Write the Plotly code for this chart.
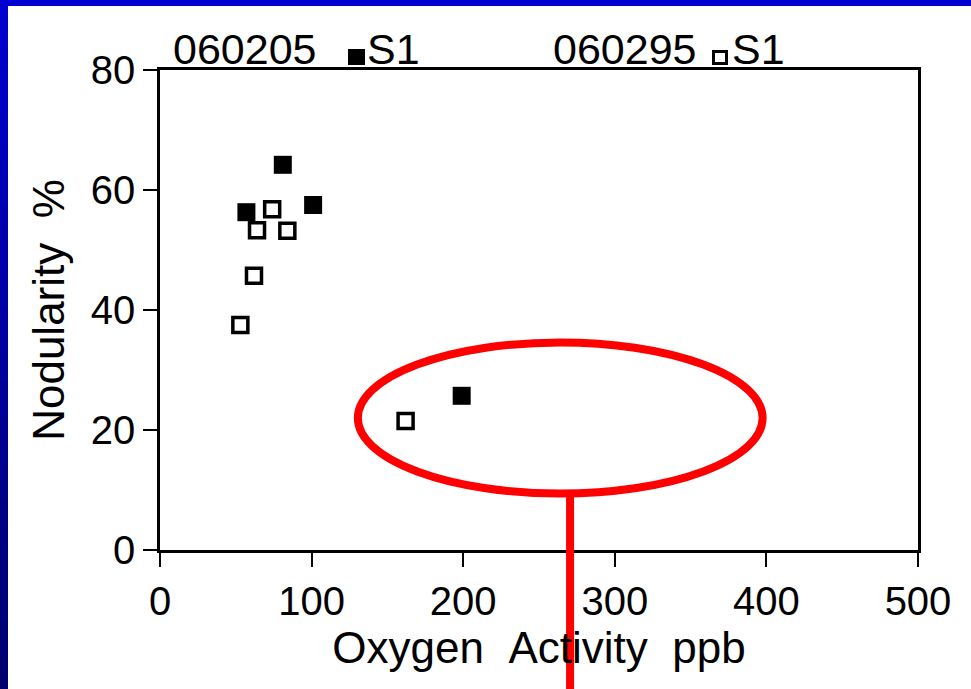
import plotly.graph_objects as go

# Data
s1_060205_x = [57, 81, 101, 199]
s1_060205_y = [56.3, 64.2, 57.5, 25.7]
s1_060295_x = [74, 64, 84, 62, 53, 162]
s1_060295_y = [56.8, 53.3, 53.2, 45.7, 37.5, 21.5]
x_ticks = [0, 100, 200, 300, 400, 500]
y_ticks = [0, 20, 40, 60, 80]
series_ids = ["060205", "060295"]
series_tag = "S1"

W, H = 971, 689
L, R, T, B = 160, 53, 70, 139
pw, ph = W - L - R, H - T - B

def px_to_paper_x(px):
    return (px - L) / pw

def py_to_paper_y(py):
    return (H - B - py) / ph

fig = go.Figure()
fig.add_trace(go.Scatter(x=s1_060205_x, y=s1_060205_y, mode="markers",
                         marker=dict(symbol="square", size=18, color="black"),
                         showlegend=False))
fig.add_trace(go.Scatter(x=s1_060295_x, y=s1_060295_y, mode="markers",
                         marker=dict(symbol="square-open", size=15, color="black",
                                     line=dict(width=3.5, color="black")),
                         showlegend=False))

shapes = []
# blue gradient frame (left band + top band)
n = 40
for i in range(n):
    y0 = i * H / n
    y1 = (i + 1) * H / n + 2
    t = i / (n - 1)
    b = int(208 - t * 98)
    shapes.append(dict(type="rect", xref="paper", yref="paper", layer="below",
                       x0=px_to_paper_x(-2), x1=px_to_paper_x(8),
                       y0=py_to_paper_y(y1), y1=py_to_paper_y(y0),
                       line=dict(width=0), fillcolor=f"rgb(0,0,{b})"))
shapes.append(dict(type="rect", xref="paper", yref="paper", layer="below",
                   x0=px_to_paper_x(-2), x1=px_to_paper_x(W + 2),
                   y0=py_to_paper_y(6), y1=py_to_paper_y(-2),
                   line=dict(width=0), fillcolor="rgb(0,0,208)"))
# legend squares
shapes.append(dict(type="rect", xref="paper", yref="paper",
                   x0=px_to_paper_x(348), x1=px_to_paper_x(365),
                   y0=py_to_paper_y(65), y1=py_to_paper_y(49),
                   line=dict(width=0), fillcolor="black"))
shapes.append(dict(type="rect", xref="paper", yref="paper",
                   x0=px_to_paper_x(713.5), x1=px_to_paper_x(726.5),
                   y0=py_to_paper_y(63.5), y1=py_to_paper_y(51.5),
                   line=dict(width=3, color="black"), fillcolor="white"))
# red ellipse and pointer line
shapes.append(dict(type="circle", xref="x", yref="y",
                   x0=130.5, x1=397.5, y0=9.4, y1=34.6,
                   line=dict(color="#ff0000", width=8)))
shapes.append(dict(type="line", xref="x", yref="paper",
                   x0=270.5, x1=270.5, y0=py_to_paper_y(496), y1=py_to_paper_y(700),
                   line=dict(color="#ff0000", width=8)))

font_main = "Liberation Sans, Arial, Helvetica, sans-serif"
ann_font = dict(family=font_main, size=43, color="black")
annotations = []
for label, px in [(series_ids[0], 171), (series_tag, 365), (series_ids[1], 551), (series_tag, 730)]:
    annotations.append(dict(text=label, x=px_to_paper_x(px), y=py_to_paper_y(49),
                            xref="paper", yref="paper", xanchor="left", yanchor="middle",
                            showarrow=False, font=ann_font))

fig.update_layout(
    width=W, height=H,
    margin=dict(l=L, r=R, t=T, b=B, pad=0),
    paper_bgcolor="white", plot_bgcolor="white",
    shapes=shapes, annotations=annotations,
    xaxis=dict(range=[0, 500], tickvals=x_ticks, ticks="outside", ticklen=14, tickwidth=2,
               tickcolor="black", showline=True, linecolor="black", linewidth=2.5, mirror=True,
               showgrid=False, zeroline=False,
               tickfont=dict(family=font_main, size=40, color="black"),
               title=dict(text="Oxygen\u00a0\u00a0Activity\u00a0\u00a0ppb",
                          font=dict(family=font_main, size=44, color="black"), standoff=2)),
    yaxis=dict(range=[0, 80], tickvals=y_ticks, ticks="outside", ticklen=14, tickwidth=2,
               tickcolor="black", showline=True, linecolor="black", linewidth=2.5, mirror=True,
               showgrid=False, zeroline=False, ticklabelstandoff=0,
               tickfont=dict(family=font_main, size=40, color="black"),
               title=dict(text="Nodularity\u00a0\u00a0%",
                          font=dict(family=font_main, size=44, color="black"),
                          standoff=13)),
)

fig.write_html("out.html")
